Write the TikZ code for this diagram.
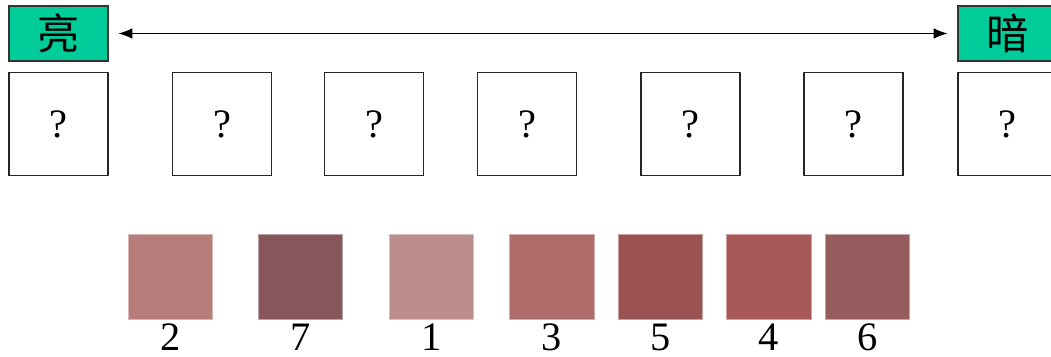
\documentclass[tikz,border=0pt]{standalone}
\usepackage{fontspec}
\setmainfont{Liberation Serif}
\newfontfamily\cjk{Noto Sans CJK SC}
\usetikzlibrary{arrows.meta}
\definecolor{endgreen}{RGB}{0,204,153}
\definecolor{tone1}{RGB}{188,141,138}
\definecolor{tone2}{RGB}{183,125,122}
\definecolor{tone3}{RGB}{174,108,106}
\definecolor{tone4}{RGB}{168,88,87}
\definecolor{tone5}{RGB}{155,82,82}
\definecolor{tone6}{RGB}{150,91,92}
\definecolor{tone7}{RGB}{135,86,90}

\begin{document}
\begin{tikzpicture}[x=0.02cm,y=-0.02cm,every node/.style={font=\fontsize{23pt}{26pt}\selectfont},
  endbox/.style={draw=black!80,line width=0.7pt,fill=endgreen,minimum width=1.98cm,minimum height=1.1cm,inner sep=0pt,font=\cjk\fontsize{24pt}{26pt}\selectfont},
  qbox/.style={draw=black!85,line width=0.8pt,fill=white,minimum width=1.98cm,minimum height=2.06cm,inner sep=0pt},
  swatch/.style={draw=#1!55!white,line width=0.4pt,fill=#1,minimum width=1.69cm,minimum height=1.7cm,inner sep=0pt},
  num/.style={anchor=base,inner sep=0pt}]
\useasboundingbox (0,0) rectangle (1051,357);
\clip (0,0) rectangle (1051,357);
% ends of the scale
\node[endbox] (bright) at (58.5,33.5) {亮};
\node[endbox] (dark) at (1007.5,33.5) {暗};
\draw[{Latex[length=8pt,width=6pt]}-{Latex[length=8pt,width=6pt]},line width=0.8pt,shorten <=5.5pt,shorten >=5.5pt] (bright.east) -- (dark.west);
% empty places
\node[qbox] (q1) at (58.5,124) {?};
\node[qbox] (q2) at (222,124) {?};
\node[qbox] (q3) at (374,124) {?};
\node[qbox] (q4) at (527,124) {?};
\node[qbox] (q5) at (690.5,124) {?};
\node[qbox] (q6) at (853.5,124) {?};
\node[qbox] (q7) at (1007.5,124) {?};
% colour samples
\node[swatch=tone2] (s2) at (170.5,276.5) {};
\node[swatch=tone7] (s7) at (300.5,276.5) {};
\node[swatch=tone1] (s1) at (431.5,276.5) {};
\node[swatch=tone3] (s3) at (552,276.5) {};
\node[swatch=tone5] (s5) at (660.5,276.5) {};
\node[swatch=tone4] (s4) at (769,276.5) {};
\node[swatch=tone6] (s6) at (867.5,276.5) {};
\node[num] (n2) at (s2 |- 0,351) {2};
\node[num] (n7) at (s7 |- 0,351) {7};
\node[num] (n1) at (s1 |- 0,351) {1};
\node[num] (n3) at (s3 |- 0,351) {3};
\node[num] (n5) at (s5 |- 0,351) {5};
\node[num] (n4) at (s4 |- 0,351) {4};
\node[num] (n6) at (s6 |- 0,351) {6};
\end{tikzpicture}
\end{document}
